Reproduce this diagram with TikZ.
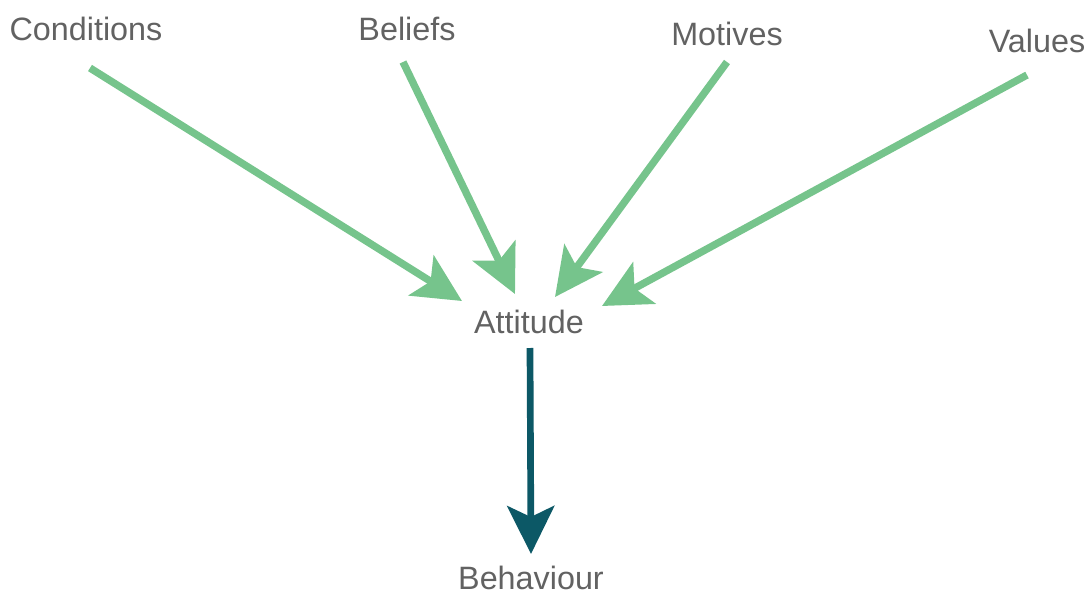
\documentclass[tikz,border=0pt]{standalone}
\usepackage{fontspec}
\setmainfont{Liberation Sans}
\usetikzlibrary{arrows.meta}
\definecolor{leaf}{RGB}{118,196,140}
\definecolor{petrol}{RGB}{12,88,102}
\definecolor{txtgray}{RGB}{98,98,98}
\begin{document}
\begin{tikzpicture}[x=0.1mm, y=-0.1mm, >={Stealth[length=4.8mm,width=4.7mm,inset=1.1mm]},
    lbl/.style={txtgray, anchor=base, font=\fontsize{9.2}{11}\selectfont, inner sep=0pt},
    infl/.style={leaf, line width=2.1pt, ->},
    lead/.style={petrol, line width=1.9pt, ->}]

    \useasboundingbox (0,0) rectangle (1086,591);

    % labels
    \node[lbl] (cond) at (86,40) {Conditions};
    \node[lbl] (bel) at (407,40) {Beliefs};
    \node[lbl] (mot) at (727,45) {Motives};
    \node[lbl] (val) at (1037,52) {Values};
    \node[lbl] (att) at (529,333) {Attitude};
    \node[lbl] (beh) at (531,589) {Behaviour};

    % arrow ends
    \coordinate (cond-o) at (90,68);
    \coordinate (bel-o) at (403,62);
    \coordinate (mot-o) at (727,62);
    \coordinate (val-o) at (1027,75);
    \coordinate (att-w) at (462,301);
    \coordinate (att-nw) at (515,294);
    \coordinate (att-ne) at (555,297);
    \coordinate (att-e) at (602,306);
    \coordinate (att-o) at (530,348);
    \coordinate (beh-i) at (531,554);

    \draw[infl] (cond-o) -- (att-w);
    \draw[infl] (bel-o) -- (att-nw);
    \draw[infl] (mot-o) -- (att-ne);
    \draw[infl] (val-o) -- (att-e);
    \draw[lead] (att-o) -- (beh-i);

\end{tikzpicture}
\end{document}
